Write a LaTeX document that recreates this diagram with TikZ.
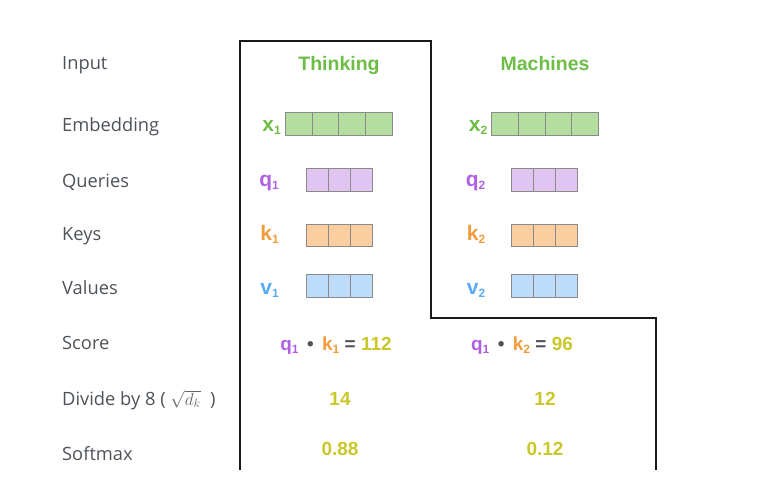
\documentclass[tikz,border=0pt]{standalone}
\usepackage{fontspec}
\setmainfont{Open Sans}
\newfontfamily\hv{Liberation Sans}
\definecolor{lblgray}{HTML}{4D5258}
\definecolor{gtxt}{HTML}{6CBD45}
\definecolor{gfill}{HTML}{B3DE9F}
\definecolor{ptxt}{HTML}{B060E3}
\definecolor{pfill}{HTML}{E0C4F2}
\definecolor{otxt}{HTML}{F39B3A}
\definecolor{ofill}{HTML}{FBCE9F}
\definecolor{btxt}{HTML}{5AAAF5}
\definecolor{bfill}{HTML}{BCDCF9}
\definecolor{ytxt}{HTML}{C9C72A}
\definecolor{cellline}{HTML}{8A8A8A}
\definecolor{mathgray}{HTML}{666666}
\newcommand\sbs[1]{\raisebox{-0.25ex}{\fontsize{12}{12}\selectfont #1}}
\tikzset{
  rowlbl/.style={anchor=base west,inner sep=0pt,text=lblgray,font=\fontsize{18.3}{20}\selectfont},
  word/.style={anchor=base,inner sep=0pt,font=\hv\bfseries\fontsize{19.5}{22}\selectfont},
  vlbl/.style={anchor=base east,inner sep=0pt,font=\hv\bfseries\fontsize{21}{22}\selectfont},
  num/.style={anchor=base,inner sep=0pt,text=ytxt,font=\hv\bfseries\fontsize{19}{22}\selectfont},
  ecell/.style={draw=cellline,line width=1pt,fill=gfill,minimum width=26.75pt,minimum height=22.6pt,inner sep=0pt},
  vcell/.style={draw=cellline,line width=1pt,minimum width=22.2pt,minimum height=22.3pt,inner sep=0pt},
  outline/.style={draw=black!90,line width=1.4pt}
}
\begin{document}
\begin{tikzpicture}[x=1pt,y=-1pt]
\useasboundingbox (0,0) rectangle (773,483);
% row labels
\node[rowlbl] (lin) at (62,69.5) {Input};
\node[rowlbl] (lemb) at (62,131) {Embedding};
\node[rowlbl] (lq) at (62,187) {Queries};
\node[rowlbl] (lk) at (62,240.5) {Keys};
\node[rowlbl] (lv) at (62,294) {Values};
\node[rowlbl] (lsc) at (62,349.5) {Score};
\node[rowlbl] (ldiv) at (62,405) {Divide by 8 ( {\color{mathgray}\fontsize{17.28}{18}\selectfont$\sqrt{d_k}$}\ \ )};
\node[rowlbl] (lsm) at (62,460.5) {Softmax};
% outline
\draw[outline] (240,470) -- (240,41) -- (431,41) -- (431,318) -- (656,318) -- (656,470);
% words
\node[word,text=gtxt] (w1) at (339,70) {Thinking};
\node[word,text=gtxt] (w2) at (545,70) {Machines};
% embeddings
\foreach \i in {0,...,3} {
  \node[ecell] (xa\i) at (285.3+26.75*\i+13.375,124) {};
  \node[ecell] (xb\i) at (491.7+26.75*\i+13.375,124) {};
}
\foreach \i in {0,...,2} {
  \node[vcell,fill=pfill] (qa\i) at (306.2+22.2*\i+11.1,180.1) {};
  \node[vcell,fill=pfill] (qb\i) at (511.3+22.2*\i+11.1,180.1) {};
  \node[vcell,fill=ofill] (ka\i) at (306.2+22.2*\i+11.1,235.6) {};
  \node[vcell,fill=ofill] (kb\i) at (511.3+22.2*\i+11.1,235.6) {};
  \node[vcell,fill=bfill] (va\i) at (306.2+22.2*\i+11.1,286.1) {};
  \node[vcell,fill=bfill] (vb\i) at (511.3+22.2*\i+11.1,286.1) {};
}
% vector labels
\node[vlbl,text=gtxt] (x1) at (281,131.5) {x\sbs{1}};
\node[vlbl,text=gtxt] (x2) at (487.5,131.5) {x\sbs{2}};
\node[vlbl,text=ptxt] (q1) at (279,186.5) {q\sbs{1}};
\node[vlbl,text=ptxt] (q2) at (485.5,186.5) {q\sbs{2}};
\node[vlbl,text=otxt] (k1) at (279,240.5) {k\sbs{1}};
\node[vlbl,text=otxt] (k2) at (485.5,240.5) {k\sbs{2}};
\node[vlbl,text=btxt] (v1) at (279,294.5) {v\sbs{1}};
\node[vlbl,text=btxt] (v2) at (485.5,294.5) {v\sbs{2}};
% scores
\node[num] (s1) at (336,350.5) {\textcolor{ptxt}{q\sbs{1}}\,\ \textcolor{lblgray}{•}\ \,\textcolor{otxt}{k\sbs{1}}\ \textcolor{lblgray}{=}\ 112};
\node[num] (s2) at (522,350.5) {\textcolor{ptxt}{q\sbs{1}}\,\ \textcolor{lblgray}{•}\ \,\textcolor{otxt}{k\sbs{2}}\ \textcolor{lblgray}{=}\ 96};
\node[num] (d1) at (340,405) {14};
\node[num] (d2) at (545,405) {12};
\node[num] (m1) at (340,455) {0.88};
\node[num] (m2) at (545,455) {0.12};
\end{tikzpicture}
\end{document}
